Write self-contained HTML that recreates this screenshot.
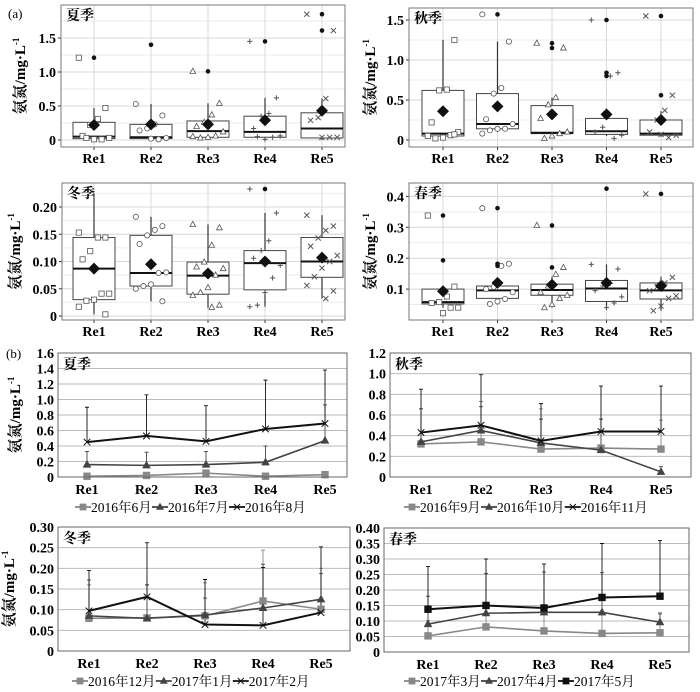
<!DOCTYPE html>
<html><head><meta charset="utf-8"><style>
body{margin:0;background:#fff}
svg{display:block;font-family:"Liberation Serif","Noto Serif CJK SC",serif}
</style></head><body>
<svg id="fig" width="700" height="692" viewBox="0 0 700 692" xmlns="http://www.w3.org/2000/svg">
<text x="8" y="18" font-size="13">(a)</text>
<text x="6" y="358" font-size="13">(b)</text>
</svg>
<script>
const categories = ["Re1","Re2","Re3","Re4","Re5"];
// box plot data: [q1, median, q3, whiskerLow, whiskerHigh, mean]
const summerBox = [[0.02,0.05,0.26,0,0.47,0.22],[0.02,0.04,0.23,0,0.53,0.23],[0.04,0.13,0.28,0,0.54,0.23],[0.04,0.12,0.35,0,0.62,0.29],[0.03,0.17,0.40,0,0.61,0.43]];
const summerOut = [[1.21],[1.40],[1.01],[1.45],[1.85,1.61]];
const summerPts = [[1.21,0.47,0.31,0.22,0.06,0.03,0.01,0.01,0.03],[0.53,0.36,0.23,0.17,0.14,0.03,0.01,0.02],[1.01,0.54,0.37,0.26,0.2,0.12,0.06,0.04,0.03,0.05],[1.45,0.62,0.39,0.35,0.17,0.06,0.04,0.01,0.05],[1.85,1.61,0.61,0.33,0.29,0.04,0.04,0.04]];
const autumnBox = [[0.05,0.08,0.62,0,1.25,0.36],[0.14,0.20,0.58,0.1,1.23,0.42],[0.08,0.09,0.43,0.05,0.53,0.32],[0.07,0.11,0.27,0.05,0.33,0.32],[0.06,0.08,0.25,0.04,0.36,0.25]];
const autumnOut = [[],[1.57],[1.21,1.15],[1.50,0.84,0.80],[1.55,0.56]];
const autumnPts = [[1.53,1.25,0.63,0.62,0.22,0.1,0.06,0.03,0.02,0.05,0.07],[1.57,1.23,0.65,0.58,0.26,0.2,0.14,0.14,0.12,0.08],[1.21,1.15,0.53,0.44,0.27,0.1,0.08,0.05,0.02],[1.5,0.84,0.8,0.16,0.1,0.06,0.02],[1.55,0.56,0.37,0.25,0.1,0.06,0.03,0.07]];
const winterBox = [[0.03,0.087,0.144,0.003,0.225,0.087],[0.055,0.079,0.148,0.027,0.182,0.095],[0.04,0.074,0.099,0.015,0.168,0.078],[0.048,0.097,0.12,0.017,0.189,0.1],[0.071,0.1,0.144,0.032,0.185,0.107]];
const winterOut = [[],[],[],[0.233],[]];
const winterPts = [[0.153,0.144,0.144,0.119,0.104,0.041,0.041,0.03,0.028,0.017,0.003],[0.182,0.165,0.158,0.148,0.132,0.08,0.079,0.058,0.055,0.05,0.027],[0.168,0.162,0.13,0.099,0.09,0.087,0.075,0.052,0.043,0.038,0.02,0.016],[0.233,0.189,0.138,0.12,0.106,0.093,0.07,0.043,0.02,0.017],[0.185,0.165,0.157,0.143,0.128,0.111,0.1,0.088,0.072,0.056,0.046,0.032]];
const springBox = [[0.052,0.058,0.1,0.04,0.108,0.093],[0.07,0.096,0.11,0.05,0.12,0.12],[0.08,0.097,0.116,0.04,0.14,0.114],[0.06,0.102,0.128,0.035,0.18,0.12],[0.068,0.096,0.12,0.03,0.14,0.11]];
const springOut = [[0.338,0.193],[0.362,0.182,0.175],[0.306,0.17],[0.425],[0.408]];
const springPts = [[0.338,0.108,0.076,0.058,0.055,0.04,0.04,0.022],[0.362,0.182,0.175,0.107,0.1,0.09,0.068,0.06,0.052],[0.306,0.17,0.148,0.11,0.09,0.08,0.07,0.05,0.04],[0.18,0.165,0.118,0.11,0.095,0.075,0.055,0.04],[0.408,0.138,0.12,0.108,0.095,0.078,0.07,0.045,0.03]];
const summerTicks = [0,0.5,1.0,1.5];
const autumnTicks = [0,0.5,1.0,1.5];
const winterTicks = [0,0.05,0.10,0.15,0.20];
const springTicks = [0.1,0.2,0.3,0.4];
// line chart data
const summerSeries = ["2016年6月","2016年7月","2016年8月"];
const summerMean = [[0.01,0.02,0.05,0.01,0.03],[0.16,0.15,0.16,0.19,0.47],[0.45,0.53,0.46,0.62,0.69]];
const summerErr = [[0.02,0.02,0.04,0.02,0.02],[0.17,0.17,0.17,0.21,0.46],[0.45,0.53,0.46,0.63,0.69]];
const autumnSeries = ["2016年9月","2016年10月","2016年11月"];
const autumnMean = [[0.32,0.34,0.27,0.28,0.27],[0.34,0.45,0.33,0.26,0.05],[0.43,0.50,0.35,0.44,0.44]];
const autumnErr = [[0.34,0.39,0.39,0.28,0.28],[0.32,0.23,0.23,0.30,0.05],[0.42,0.49,0.36,0.44,0.44]];
const winterSeries = ["2016年12月","2017年1月","2017年2月"];
const winterMean = [[0.079,0.08,0.085,0.121,0.101],[0.085,0.079,0.087,0.104,0.125],[0.097,0.131,0.064,0.062,0.093]];
const winterErr = [[0.081,0.08,0.08,0.123,0.099],[0.087,0.081,0.041,0.106,0.062],[0.098,0.131,0.109,0.14,0.159]];
const springSeries = ["2017年3月","2017年4月","2017年5月"];
const springMean = [[0.052,0.081,0.068,0.06,0.062],[0.09,0.125,0.128,0.128,0.096],[0.138,0.15,0.142,0.176,0.18]];
const springErr = [[0.05,0.08,0.06,0.06,0.06],[0.09,0.128,0.13,0.128,0.03],[0.138,0.15,0.142,0.174,0.18]];
const summerLineTicks = [0,0.2,0.4,0.6,0.8,1.0,1.2,1.4,1.6];
const autumnLineTicks = [0,0.2,0.4,0.6,0.8,1.0,1.2];
const winterLineTicks = [0,0.05,0.10,0.15,0.20,0.25,0.30];
const springLineTicks = [0,0.05,0.10,0.15,0.20,0.25,0.30,0.35,0.40];

const svg = document.getElementById('fig');
const NS = 'http://www.w3.org/2000/svg';
function mk(tag, attrs, parent){const e=document.createElementNS(NS,tag);for(const k in attrs)e.setAttribute(k,attrs[k]);(parent||svg).appendChild(e);return e;}
function fmt(v,d){return v===0?'0':v.toFixed(d);}

function marker(g, type, x, y, s, color, fill){
  let e;
  if(type==='square'){e=mk('rect',{x:x-s,y:y-s,width:2*s,height:2*s,fill:fill?color:'#fff',stroke:color,'stroke-width':0.8},g);}
  else if(type==='circle'){e=mk('circle',{cx:x,cy:y,r:s,fill:fill?color:'#fff',stroke:color,'stroke-width':0.8},g);}
  else if(type==='triangle'){e=mk('path',{d:`M${x} ${y-s*1.2}L${x+s*1.1} ${y+s*0.8}L${x-s*1.1} ${y+s*0.8}Z`,fill:fill?color:'#fff',stroke:color,'stroke-width':0.8},g);}
  else if(type==='plus'){e=mk('path',{d:`M${x-s} ${y}H${x+s}M${x} ${y-s}V${y+s}`,stroke:color,'stroke-width':1},g);}
  else {e=mk('path',{d:`M${x-s} ${y-s}L${x+s} ${y+s}M${x+s} ${y-s}L${x-s} ${y+s}`,stroke:color,'stroke-width':1},g);}
  
  
  return e;
}
const syms=['square','circle','triangle','plus','cross'];

function yTitle(g,x,y){
  const t=mk('text',{x:0,y:0,transform:`translate(${x},${y}) rotate(-90)`,'font-size':15,'text-anchor':'middle','font-weight':'bold'},g);
  
  
  t.innerHTML='氨氮/mg·L<tspan font-size="9" dy="-6">-1</tspan>';
}

function boxPanel(name,title,box,outs,pts,ticks,dec,fx0,fx1,fy0,fy1,yZero,pxPerUnit,cx0,step,ytx){
  const g=mk('g',{});
  
  
  const Y=v=>yZero-v*pxPerUnit, X=i=>cx0+i*step;
  const minor=(ticks[1]-ticks[0])/2;
  for(let v=0;Y(v)>=fy0;v+=minor){const y=Y(v);if(y>fy1)continue;const l=mk('line',{x1:fx0,x2:fx1,y1:y,y2:y,stroke:'#ebebeb','stroke-width':1},g);}
  ticks.forEach(v=>{const y=Y(v);const l=mk('line',{x1:fx0,x2:fx1,y1:y,y2:y,stroke:'#d9d9d9','stroke-width':1},g);
    const tl=mk('line',{x1:fx0-3,x2:fx0,y1:y,y2:y,stroke:'#333'},g);
    const t=mk('text',{x:fx0-5,y:y+5,'font-size':14,'font-weight':'bold','text-anchor':'end'},g);t.textContent=fmt(v,dec);});
  categories.forEach((c,i)=>{const l=mk('line',{x1:X(i),x2:X(i),y1:fy0,y2:fy1,stroke:'#d9d9d9'},g);
    const tk=mk('line',{x1:X(i),x2:X(i),y1:fy1,y2:fy1+3,stroke:'#333'},g);
    const t=mk('text',{x:X(i),y:fy1+16,'font-size':14,'font-weight':'bold','text-anchor':'middle'},g);t.textContent=c;});
  box.forEach((b,i)=>{const x=X(i),w=21;
    const wh=mk('line',{x1:x,x2:x,y1:Y(b[3]),y2:Y(b[4]),stroke:'#333','stroke-width':1.2},g);
    const r=mk('rect',{x:x-w,y:Y(b[2]),width:2*w,height:Y(b[0])-Y(b[2]),fill:'#fff',stroke:'#444','stroke-width':1},g);
    const m=mk('line',{x1:x-w,x2:x+w,y1:Y(b[1]),y2:Y(b[1]),stroke:'#111','stroke-width':2},g);
    pts[i].forEach((v,j)=>{const dx=((j*7)%9-4)*3.8;marker(g,syms[i],x+dx,Y(v),2.6,'#555',false);});
    outs[i].forEach(v=>{const c=mk('circle',{cx:x,cy:Y(v),r:2.3,fill:'#111'},g);});
    const my=Y(b[5]);const d=mk('path',{d:`M${x} ${my-6}L${x+6} ${my}L${x} ${my+6}L${x-6} ${my}Z`,fill:'#111'},g);
  });
  const f=mk('rect',{x:fx0,y:fy0,width:fx1-fx0,height:fy1-fy0,fill:'none',stroke:'#777','stroke-width':1},g);
  const t=mk('text',{x:fx0+5,y:fy0+15,'font-size':14,'font-weight':'bold'},g);t.textContent=title;
  yTitle(g,ytx,(fy0+fy1)/2);
}
boxPanel('summer-boxplot','夏季',summerBox,summerOut,summerPts,summerTicks,1,61,345,5,147,140,68,94,57,25);
boxPanel('autumn-boxplot','秋季',autumnBox,autumnOut,autumnPts,autumnTicks,1,409,693,8,147,140,80,443,54.5,375);
boxPanel('winter-boxplot','冬季',winterBox,winterOut,winterPts,winterTicks,2,62,345,183,320,316,545,94,57,20);
boxPanel('spring-boxplot','春季',springBox,springOut,springPts,springTicks,1,409,693,183,320,320,309,443,54.5,375);

const lineColors=['#888','#444','#111'];
function linePanel(name,title,series,means,errs,ticks,dec,fx0,fx1,fy0,fy1,ymax,cx0,step,syms3,ytx,legX,legY){
  const g=mk('g',{});
  
  
  const Y=v=>fy1-v/ymax*(fy1-fy0), X=i=>cx0+i*step;
  ticks.forEach(v=>{const y=Y(v);const l=mk('line',{x1:fx0,x2:fx1,y1:y,y2:y,stroke:'#bbb','stroke-width':1},g);
    const t=mk('text',{x:fx0-4,y:y+5,'font-size':14,'font-weight':'bold','text-anchor':'end'},g);t.textContent=fmt(v,dec);});
  categories.forEach((c,i)=>{const t=mk('text',{x:X(i),y:fy1+17,'font-size':14,'font-weight':'bold','text-anchor':'middle'},g);t.textContent=c;});
  means.forEach((s,k)=>{s.forEach((v,i)=>{const x=X(i),y1=Y(v),y2=Y(v+errs[k][i]);
    const e=mk('path',{d:`M${x} ${y1}V${y2}M${x-2} ${y2}H${x+2}`,stroke:lineColors[k],'stroke-width':0.9},g);});});
  means.forEach((s,k)=>{const p=mk('polyline',{points:s.map((v,i)=>X(i)+','+Y(v)).join(' '),fill:'none',stroke:lineColors[k],'stroke-width':k==2?2:1.6},g);
    s.forEach((v,i)=>marker(g,syms3[k],X(i),Y(v),3.3,lineColors[k],syms3[k]!=='cross'));});
  const f=mk('rect',{x:fx0,y:fy0,width:fx1-fx0,height:fy1-fy0,fill:'none',stroke:'#666','stroke-width':1},g);
  const t=mk('text',{x:fx0+5,y:fy0+16,'font-size':14,'font-weight':'bold'},g);t.textContent=title;
  if(ytx)yTitle(g,ytx,(fy0+fy1)/2);
  let lx=legX;
  series.forEach((s,k)=>{const lg=mk('g',{},g);
    mk('line',{x1:lx,x2:lx+16,y1:legY-4,y2:legY-4,stroke:lineColors[k],'stroke-width':1.8},lg);
    marker(lg,syms3[k],lx+8,legY-4,3,lineColors[k],syms3[k]!=='cross');
    const tt=mk('text',{x:lx+16,y:legY+1,'font-size':13.5},lg);tt.textContent=s;
    lx+=16+s.replace(/[年月]/g,'').length*6.8+27;});
}
linePanel('summer-linechart','夏季',summerSeries,summerMean,summerErr,summerLineTicks,1,58,347,353,477,1.6,87,59.5,['square','triangle','cross'],20,75,511);
linePanel('autumn-linechart','秋季',autumnSeries,autumnMean,autumnErr,autumnLineTicks,1,390,691,353,477,1.2,421,60,['square','triangle','cross'],0,404,511);
linePanel('winter-linechart','冬季',winterSeries,winterMean,winterErr,winterLineTicks,2,58,350,527,651,0.30,89,58,['square','triangle','cross'],14,72,685);
linePanel('spring-linechart','春季',springSeries,springMean,springErr,springLineTicks,2,384,689,528,652,0.40,428,58,['square','triangle','square'],0,404,685);
</script>
</body></html>
